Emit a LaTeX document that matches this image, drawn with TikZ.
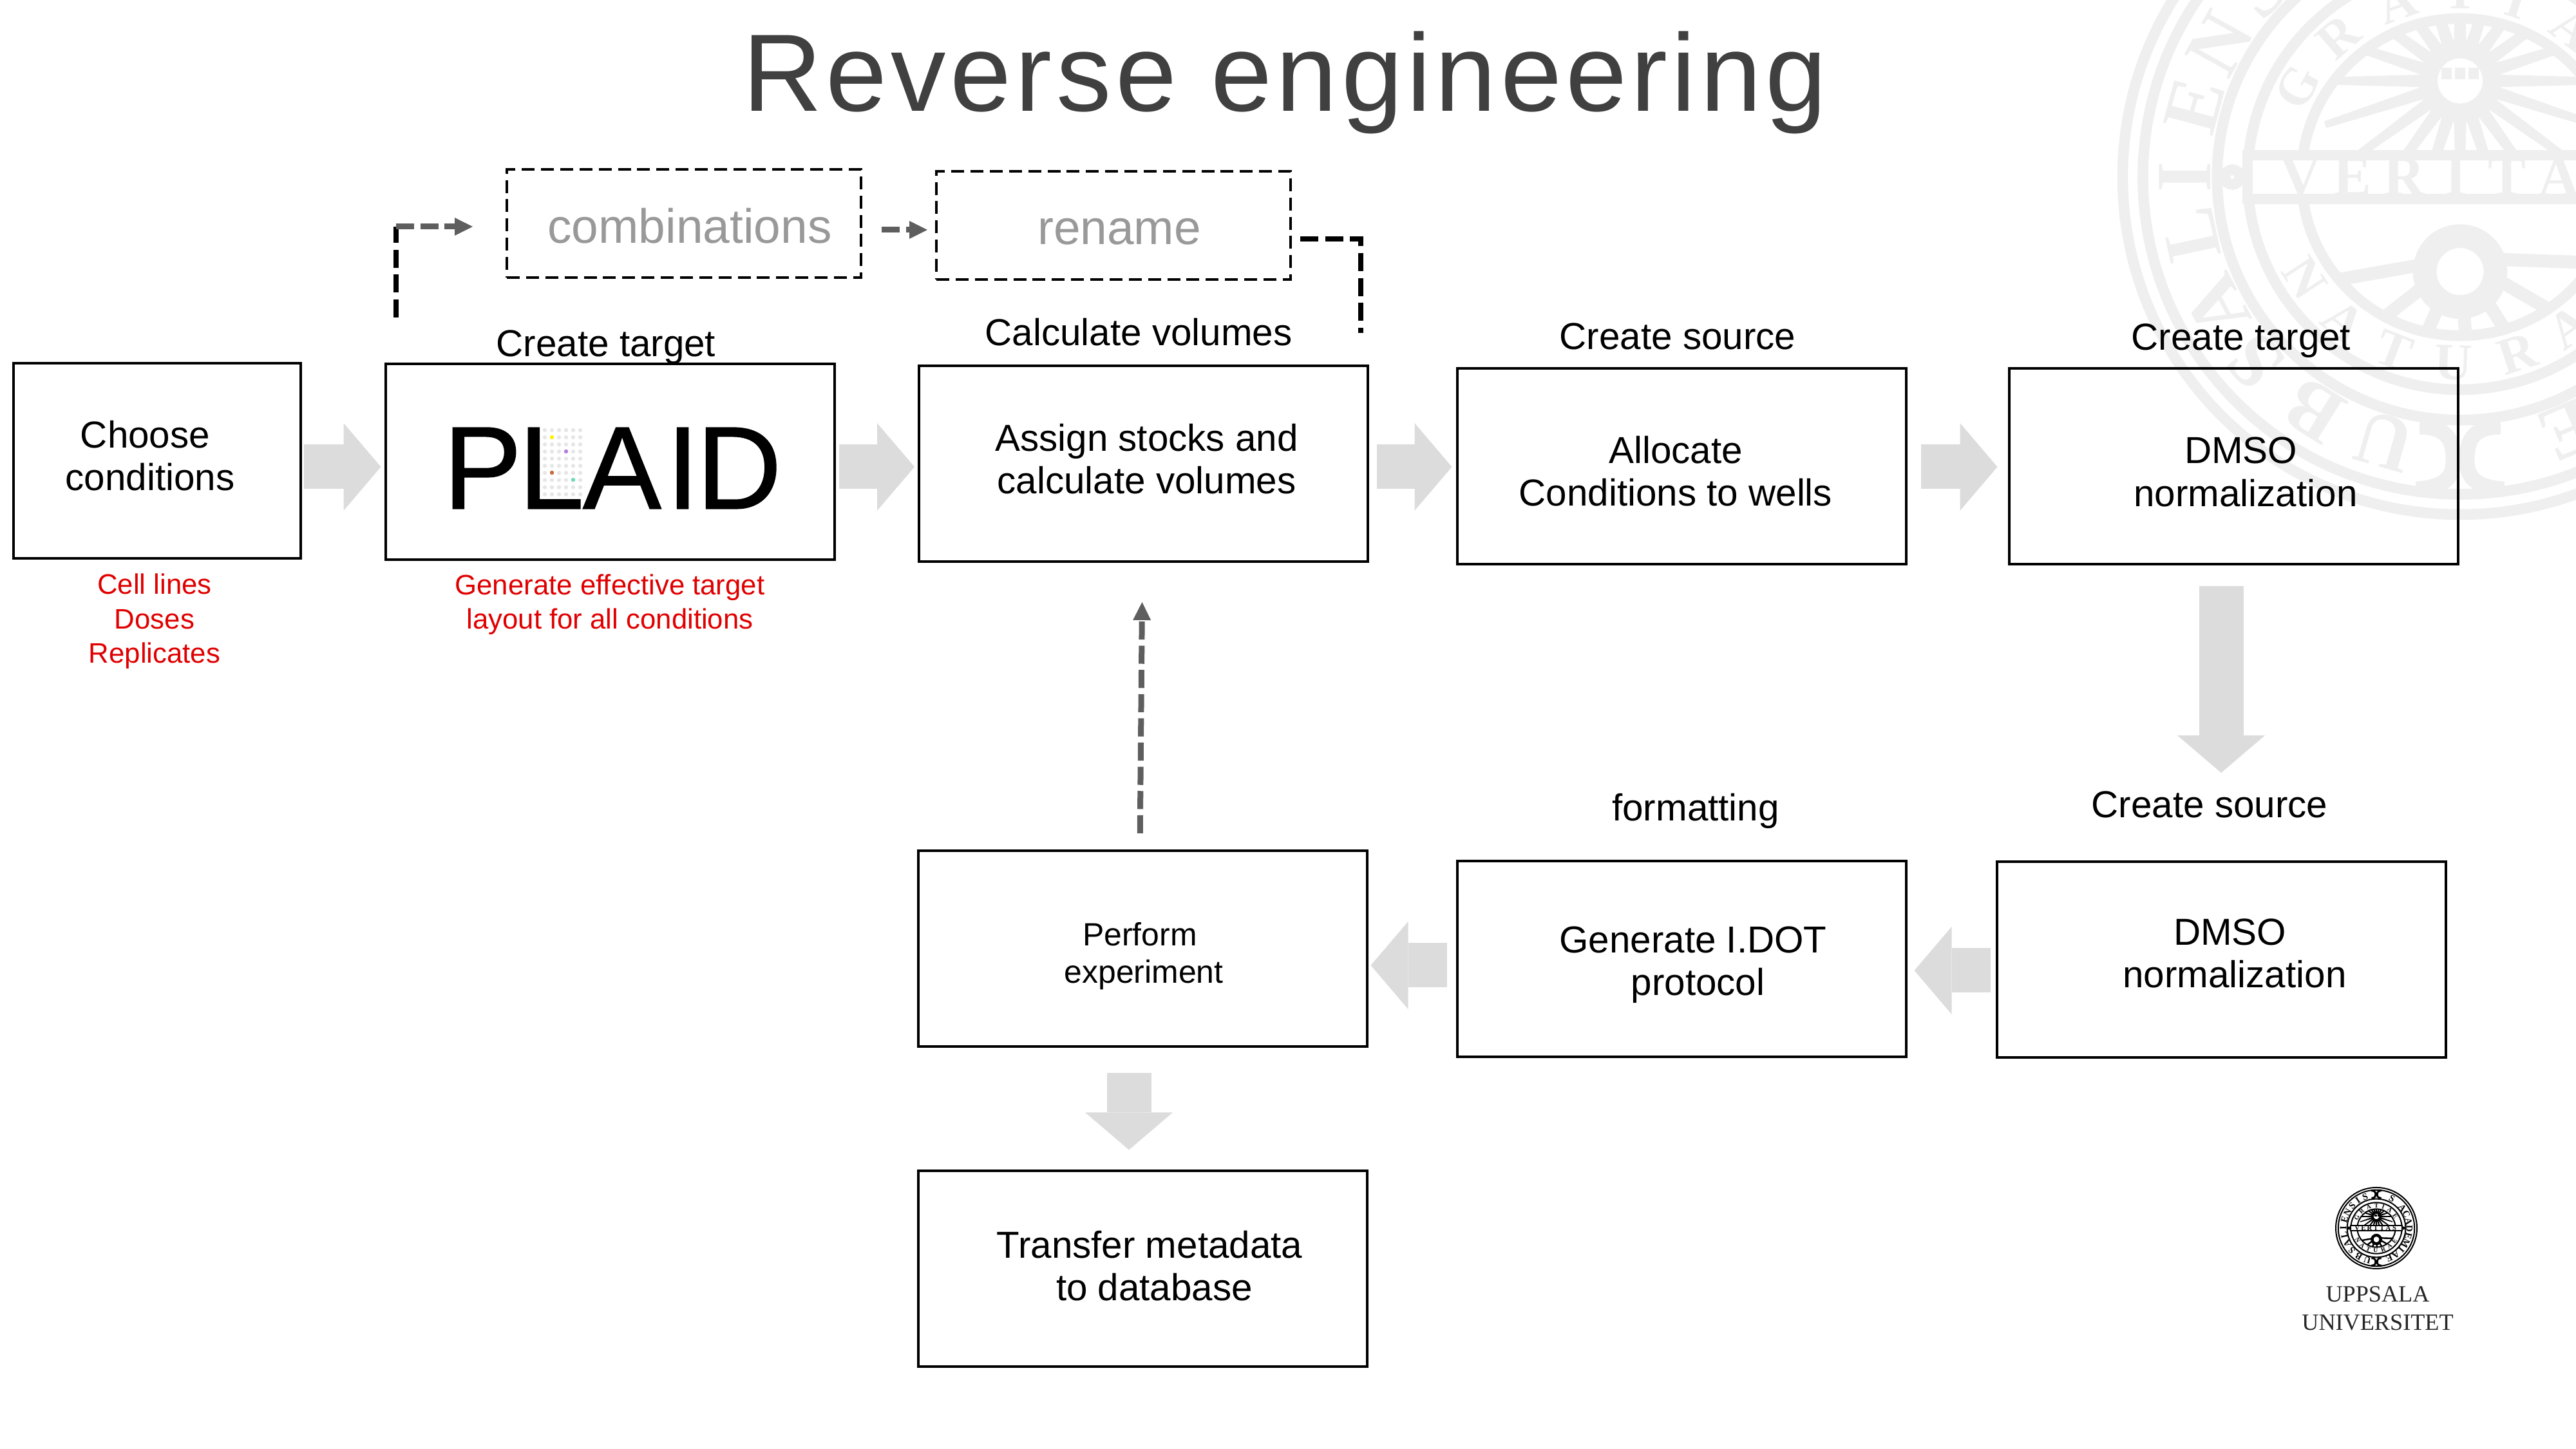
\documentclass[tikz,border=0pt]{standalone}
\usepackage{fontspec}
\setmainfont{Liberation Sans}
\newfontfamily\sealfont{Liberation Serif}
\usetikzlibrary{arrows.meta}

\definecolor{blockgray}{HTML}{DCDCDC}
\definecolor{titlegray}{HTML}{404040}
\definecolor{dashgray}{HTML}{5E5E5E}
\definecolor{ghostgray}{HTML}{999999}
\definecolor{notered}{HTML}{E00000}
\definecolor{sealgray}{HTML}{EFEFEF}
\definecolor{dotgray}{HTML}{E6E6E6}
\definecolor{dotyellow}{HTML}{FFF200}
\definecolor{dotviolet}{HTML}{B57EDC}
\definecolor{dotbrown}{HTML}{C8693A}
\definecolor{dotteal}{HTML}{6FDDB5}

% text of a box, moved away from the middle of the box
\newcommand{\moved}[3]{\raisebox{#2}[\height][\depth]{\hspace*{2\dimexpr#1\relax}\begin{tabular}{@{}c@{}}#3\end{tabular}}}

% x, y, radius, colour, name prefix
\newcommand{\sealmark}[5]{%
\begin{scope}[shift={(#1,#2)},scale=#3,transform shape,color=#4,name prefix=#5,line width=#3*.9pt,
  every node/.append style={text=#4,inner sep=0pt}]
\foreach \r in {1,.94,.72,.63,.47}
\draw (0,0) circle (\r);
\fill[white] (-.63,-.065) rectangle (.63,.065);
\draw (-.63,-.065) rectangle (.63,.065);
\foreach \s in {-1,1}
\draw (\s*.675,0) circle (.022);
% sun
\begin{scope}
\clip (-.47,.075) rectangle (.47,.47);
\clip (0,0) circle (.47);
\begin{scope}[shift={(0,.285)}]
\foreach \a in {0,18,...,342}
\draw[line width=#3*.6pt] (\a-3.5:.125) -- (\a:.42) -- (\a+3.5:.125) -- cycle;
\fill[white] (0,0) circle (.105);
\draw[line width=#3*1.6pt] (0,0) circle (.095);
\foreach \a in {-.04,0,.04}
\draw (\a,.04) -- (\a,.005);
\end{scope}
\end{scope}
% wheel
\begin{scope}
\clip (-.47,-.075) rectangle (.47,-.47);
\clip (0,0) circle (.47);
\foreach \a in {190,218,...,358}
\draw[line width=#3*1.1pt] (0,-.24) -- ++(\a:.5);
\fill[white] (0,-.28) circle (.125);
\draw[line width=#3*2pt] (0,-.28) circle (.105);
\end{scope}
% ornaments on the outer ring
\foreach \s in {-1,1}
\foreach \t in {-1,1}
\draw[line width=#3*1.3pt] (\s*.12,\t*.74) .. controls (\s*.03,\t*.74) and (\s*.02,\t*.79) .. (\s*.02,\t*.84) .. controls (\s*.02,\t*.9) and (\s*.06,\t*.92) .. (\s*.13,\t*.925);
% outer letters
\foreach \l/\a [count=\i] in {U/254,B/238,S/222,A/208,L/192,I/180,E/165,N/151,S/137,I/124,S/110,
  S/62,A/38,C/25,A/12,D/-1,E/-14,M/-28,I/-41,A/-54,E/-67}
\node[name=outer-\i,rotate=\a-90,font=\sealfont\bfseries\fontsize{6.6}{7}\selectfont] at (\a:.815) {\l};
\foreach \l/\a [count=\i] in {G/151,R/131,A/110,T/90,I/72,A/53,E/33}
\node[name=upper-\i,rotate=\a-90,font=\sealfont\bfseries\fontsize{4.4}{5}\selectfont] at (\a:.55) {\l};
\foreach \l/\a [count=\i] in {N/213,A/231,T/249,U/268,R/288,A/306,E/324}
\node[name=lower-\i,rotate=\a+90,font=\sealfont\bfseries\fontsize{4.4}{5}\selectfont] at (\a:.55) {\l};
\foreach \l [count=\i] in {V,E,R,I,T,A,S}
\node[name=band-\i,font=\sealfont\bfseries\fontsize{4.8}{5}\selectfont] at (\i*.153-.625,0) {\l};
\end{scope}}

\tikzset{
  box/.style={draw,line width=.04cm,inner sep=0pt,outer sep=0pt,minimum height=3.04cm,minimum width=6.97cm,font=\fontsize{16.6}{18.8}\selectfont},
  smallbox/.style={box,font=\fontsize{14.2}{16.7}\selectfont},
  ghostbox/.style={draw,line width=.04cm,inner sep=0pt,outer sep=0pt,dash pattern=on 5.7pt off 2.8pt,minimum width=5.5cm,minimum height=1.68cm,text=ghostgray,font=\fontsize{21.3}{24}\selectfont},
  steplabel/.style={anchor=base,inner sep=0pt,font=\fontsize{16.6}{18.8}\selectfont},
  rednote/.style={align=center,inner sep=0pt,text=notered,font=\fontsize{12.45}{15.2}\selectfont},
  fatarrow/.style={blockgray,line width=.69cm,-{Triangle[length=.58cm,width=1.36cm,line width=0pt,sep=0pt]}},
  dashline/.style={line width=.085cm,dash pattern=on 8pt off 3pt},
  greyline/.style={dashgray,line width=.09cm,dash pattern=on 8pt off 2.7pt,-{Triangle[length=.28cm,width=.28cm,line width=0pt]}},
}

\begin{document}
\begin{tikzpicture}
\useasboundingbox (0,0) rectangle (40,22.5);
\begin{scope}
\clip (0,0) rectangle (40,22.5);
\sealmark{38.2}{19.75}{5.24}{sealgray}{big-}
\end{scope}

\node[anchor=base,inner sep=0pt,text=titlegray,font=\fontsize{48.6}{50}\selectfont\addfontfeature{LetterSpace=3.7}] (title) at (19.95,20.77) {Reverse engineering};

% first row
\node[box,minimum width=4.46cm,minimum height=3.03cm] (choose) at (2.44,15.345) {\moved{-.11cm}{0cm}{Choose\hspace*{.15cm}\\conditions}};
\node[box] (plaid) at (9.47,15.325) {\raisebox{-.095cm}[\height][\depth]{\hspace*{.08cm}\fontsize{52}{52}\selectfont\addfontfeature{FakeBold=.8}P\kern-.05cm L\kern-.02cm A\kern.08cm I\kern-.04cm D}};
\node[box] (assign) at (17.755,15.30) {\moved{.05cm}{0cm}{Assign stocks and\\calculate volumes}};
\node[box] (allocate) at (26.11,15.26) {\moved{-.09cm}{-.153cm}{Allocate\\Conditions to wells}};
\node[box] (dmsotarget) at (34.68,15.255) {\moved{.19cm}{-.153cm}{DMSO\hspace*{.15cm}\\normalization}};

% second row
\node[smallbox] (perform) at (17.74,7.77) {\moved{.02cm}{-.128cm}{Perform\hspace*{.12cm}\\experiment}};
\node[box] (generate) at (26.11,7.61) {\moved{.18cm}{-.10cm}{Generate I.DOT\\\hspace*{.15cm}protocol}};
\node[box] (dmsosource) at (34.49,7.60) {\moved{.21cm}{.025cm}{DMSO\hspace*{.15cm}\\normalization}};
\node[box] (transfer) at (17.74,2.795) {\moved{.11cm}{-.03cm}{Transfer metadata\\\hspace*{.15cm}to database}};

% dots of the plate on the logo
\foreach \c in {0,...,5}
\foreach \r in {0,...,9}
\fill[dotgray] (8.46+\c*.11,15.82-\r*.1107) circle (.032);
\fill[dotyellow] (8.57,15.71) circle (.032);
\fill[dotviolet] (8.79,15.49) circle (.032);
\fill[dotbrown] (8.57,15.16) circle (.032);
\fill[dotteal] (8.90,15.05) circle (.032);

% dashed side step
\node[ghostbox] (combinations) at (10.62,19.03) {\moved{.09cm}{-.14cm}{combinations}};
\node[ghostbox] (rename) at (17.29,19.00) {\moved{.09cm}{-.13cm}{rename}};
\coordinate (leftfoot) at (6.15,17.57);
\coordinate (leftbend) at (6.15,18.98);
\coordinate (combinin) at (7.34,18.98);
\coordinate (combinout) at (13.69,18.93);
\coordinate (renamein) at (14.40,18.93);
\coordinate (renameout) at (20.19,18.79);
\coordinate (rightbend) at (21.13,18.79);
\coordinate (rightfoot) at (21.13,17.33);
\draw[dashline] (leftfoot) -- (leftbend);
\draw[greyline] (leftbend) -- (combinin);
\draw[greyline] (combinout) -- (renamein);
\draw[dashline] (renameout) -- (rightbend) -- (rightfoot);

% step labels
\node[steplabel] (createtarget) at (9.41,16.96) {Create target};
\node[steplabel] (calculate) at (17.68,17.13) {Calculate volumes};
\node[steplabel] (createsource) at (26.05,17.07) {Create source};
\node[steplabel] (createtargettwo) at (34.80,17.06) {Create target};
\node[steplabel] (formatting) at (26.33,9.75) {formatting};
\node[steplabel] (createsourcetwo) at (34.31,9.80) {Create source};
\node[rednote] (choosenote) at (2.40,12.85) {Cell lines\\Doses\\Replicates};
\node[rednote] (plaidnote) at (9.47,13.115) {Generate effective target\\layout for all conditions};

% block arrows
\coordinate (rowone) at (0,15.25);
\coordinate (rowtwo) at (0,7.47);
\draw[fatarrow,shorten <=.05cm,shorten >=.07cm] (choose.east |- rowone) -- (plaid.west |- rowone);
\draw[fatarrow,shorten <=.07cm,shorten >=.07cm] (plaid.east |- rowone) -- (assign.west |- rowone);
\draw[fatarrow,shorten <=.14cm,shorten >=.08cm] (assign.east |- rowone) -- (allocate.west |- rowone);
\draw[fatarrow,shorten <=.23cm,shorten >=.18cm] (allocate.east |- rowone) -- (dmsotarget.west |- rowone);
\draw[fatarrow,shorten <=.34cm,shorten >=1.38cm] (dmsotarget.south -| dmsosource.north) -- (dmsosource.north);
\draw[fatarrow,shorten <=.10cm,shorten >=.13cm] (dmsosource.west |- 0,7.43) -- (generate.east |- 0,7.43);
\draw[fatarrow,shorten <=.16cm,shorten >=.06cm] (generate.west |- 0,7.51) -- (perform.east |- 0,7.51);
\draw[fatarrow,shorten <=.41cm,shorten >=.33cm] ([xshift=-.21cm]perform.south) -- ([xshift=-.21cm]transfer.north);

% back to the volumes
\draw[greyline,shorten <=.27cm,shorten >=.63cm] ([xshift=-.04cm]perform.north) -- ([xshift=-.015cm]assign.south);

% university mark
\sealmark{36.9}{3.43}{.63}{black}{small-}
\node[align=center,inner sep=0pt,text=black!85,font=\sealfont\fontsize{10.3}{12.5}\selectfont] (uppsala) at (36.92,2.18) {UPPSALA\\UNIVERSITET};
\end{tikzpicture}
\end{document}
